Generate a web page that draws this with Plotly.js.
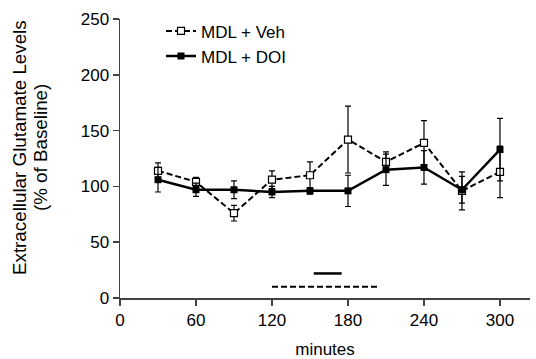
<!DOCTYPE html>
<html><head><meta charset="utf-8">
<script src="https://cdn.plot.ly/plotly-3.0.1.min.js"></script>
<style>body{margin:0;background:#fff}#c{width:536px;height:359px}</style>
</head><body><div id="c"></div>
<script>
const minutes = [30, 60, 90, 120, 150, 180, 210, 240, 270, 300];
const vehMean = [114, 104, 76, 106, 110, 142, 122, 139, 96, 113];
const vehErr  = [7, 4, 7, 8, 12, 30, 9, 20, 17, 23];
const doiMean = [106, 97, 97, 95, 96, 96, 115, 117, 97, 133];
const doiErr  = [11, 6, 8, 5, 3, 14, 14, 15, 12, 28];
const doiBarX = [153, 175];
const doiBarY = [22, 22];
const vehBarX = [120, 205];
const vehBarY = [10, 10];
const xTicks = [0, 60, 120, 180, 240, 300];
const yTicks = [0, 50, 100, 150, 200, 250];
const yTitleLines = ['Extracellular Glutamate Levels', '(% of Baseline)'];

const font = {family: 'Liberation Sans, Arial, sans-serif', color: '#000'};
const traces = [
  {x: minutes, y: vehMean, name: 'MDL + Veh', type: 'scatter', mode: 'lines+markers',
   line: {color: '#000', width: 2, dash: '6px,3px'},
   marker: {symbol: 'square', size: 7, color: '#fff', line: {color: '#000', width: 1.2}},
   error_y: {type: 'data', array: vehErr, visible: true, color: '#000', thickness: 1.2, width: 3}},
  {x: minutes, y: doiMean, name: 'MDL + DOI', type: 'scatter', mode: 'lines+markers',
   line: {color: '#000', width: 2.5},
   marker: {symbol: 'square', size: 7, color: '#000'},
   error_y: {type: 'data', array: doiErr, visible: true, color: '#000', thickness: 1.2, width: 3}},
  {x: doiBarX, y: doiBarY, type: 'scatter', mode: 'lines', showlegend: false, hoverinfo: 'skip',
   line: {color: '#000', width: 2.5}},
  {x: vehBarX, y: vehBarY, type: 'scatter', mode: 'lines', showlegend: false, hoverinfo: 'skip',
   line: {color: '#000', width: 2, dash: '6px,3px'}}
];
const layout = {
  width: 536, height: 359,
  margin: {l: 120, r: 6, t: 19, b: 61},
  paper_bgcolor: '#fff', plot_bgcolor: '#fff',
  font: Object.assign({size: 17}, font),
  showlegend: true,
  legend: {x: 0.1, y: 1.02, xanchor: 'left', yanchor: 'top', bgcolor: 'rgba(0,0,0,0)',
           font: Object.assign({size: 17}, font), tracegroupgap: 0, itemwidth: 30},
  xaxis: {range: [0, 323.7], tickvals: xTicks, ticktext: xTicks.map(String),
          showgrid: false, zeroline: false, showline: true, linecolor: '#444', linewidth: 1.5,
          ticks: 'outside', ticklen: 6, tickcolor: '#444', tickwidth: 1.5,
          tickfont: Object.assign({size: 17}, font),
          title: {text: 'minutes', font: Object.assign({size: 17}, font), standoff: 14}},
  yaxis: {range: [0, 250], tickvals: yTicks, ticktext: yTicks.map(String),
          showgrid: false, zeroline: false, showline: true, linecolor: '#444', linewidth: 1.5,
          ticks: 'outside', ticklen: 6, tickcolor: '#444', tickwidth: 1.5,
          tickfont: Object.assign({size: 17}, font)},
  annotations: [
    {text: yTitleLines[0], xref: 'paper', yref: 'paper', x: -0.2463, y: 0.5376,
     xanchor: 'center', yanchor: 'middle', textangle: -90, showarrow: false,
     font: Object.assign({size: 18.8}, font)},
    {text: yTitleLines[1], xref: 'paper', yref: 'paper', x: -0.195, y: 0.5376,
     xanchor: 'center', yanchor: 'middle', textangle: -90, showarrow: false,
     font: Object.assign({size: 18.8}, font)}
  ]
};
Plotly.newPlot('c', traces, layout, {staticPlot: true, displayModeBar: false});
</script></body></html>
